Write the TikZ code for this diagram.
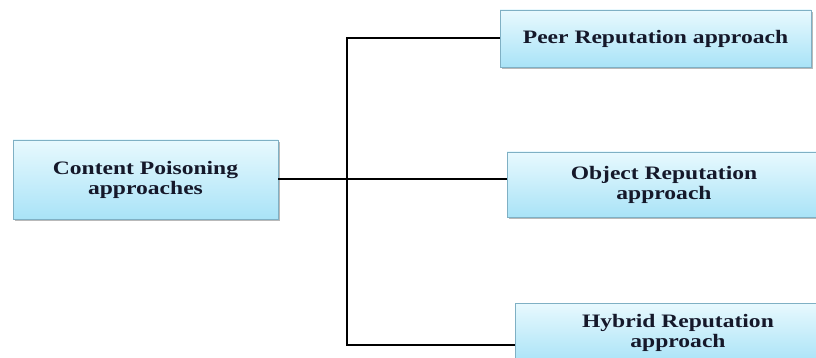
\documentclass[tikz,border=0pt]{standalone}
\usepackage{fontspec}
\setmainfont{Liberation Serif}[FakeStretch=1.24]
\usetikzlibrary{shadows}
\definecolor{boxline}{HTML}{7FB0C4}
\definecolor{boxtop}{HTML}{E8F9FE}
\definecolor{boxbottom}{HTML}{A9E3F7}
\definecolor{boxtext}{HTML}{15182A}
\tikzset{
  approach/.style={draw=boxline, line width=0.8pt, top color=boxtop, bottom color=boxbottom,
    drop shadow={shadow xshift=2pt, shadow yshift=-2pt, fill=black!50, opacity=0.55},
    align=center, inner sep=0pt, text=boxtext,
    font=\fontsize{19}{20}\selectfont\bfseries},
  link/.style={line width=2pt, black}
}
\begin{document}
\begin{tikzpicture}[x=1pt,y=-1pt]
\useasboundingbox (0,0) rectangle (816,358);
\clip (0,0) rectangle (816,358);
\node[approach, minimum width=265pt, minimum height=79pt] (cp) at (145.5,179.5) {Content Poisoning\\approaches};
\node[approach, minimum width=311pt, minimum height=57pt] (pr) at (655.5,38.5) {Peer Reputation approach};
\node[approach, minimum width=314pt, minimum height=65pt] (ob) at (664,184.5) {Object Reputation\\approach};
\node[approach, minimum width=326pt, minimum height=60pt] (hy) at (678,333) {Hybrid Reputation\\approach};
\coordinate (trunk) at (347,0);
\coordinate (hyin) at (hy.west |- 0,345);
\draw[link] (cp.east) -- (ob.west |- cp.east);
\draw[link] (pr.west) -- (pr.west -| trunk) -- (trunk |- hyin) -- (hyin);
\end{tikzpicture}
\end{document}
